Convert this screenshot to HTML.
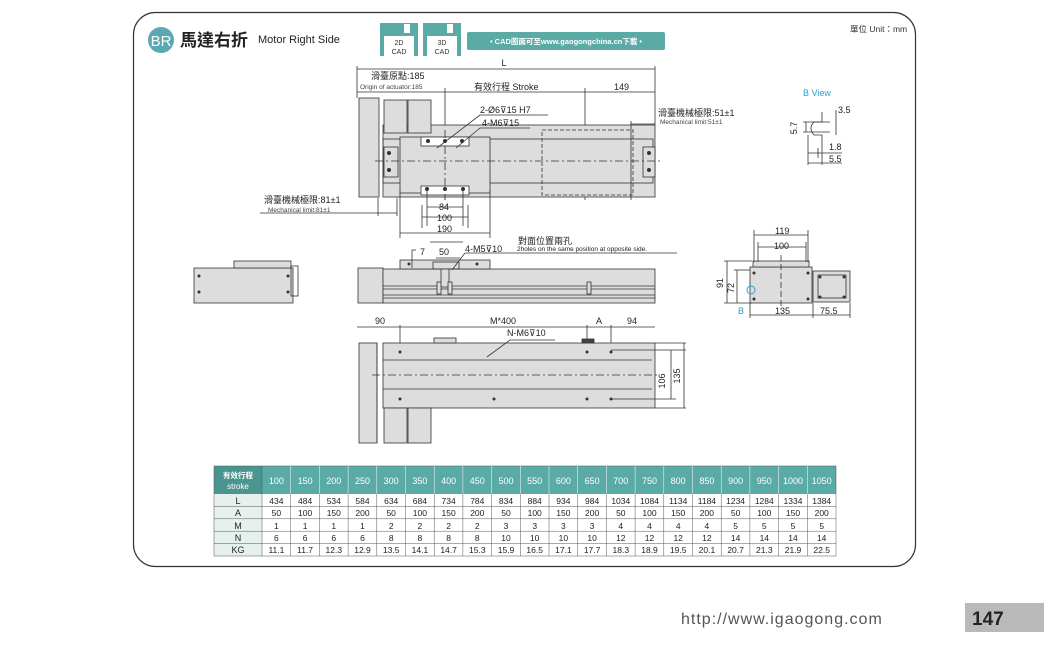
<!DOCTYPE html>
<html><head><meta charset="utf-8"><style>
html,body{margin:0;padding:0;background:#fff;}
svg{display:block;font-family:"Liberation Sans","Noto Sans CJK TC",sans-serif;}
</style></head><body>
<svg width="1044" height="648" viewBox="0 0 1044 648" xmlns="http://www.w3.org/2000/svg">
<rect x="133.5" y="12.5" width="782" height="554" rx="22" fill="#fff" stroke="#333" stroke-width="1.2"/>
<circle cx="161" cy="40" r="13" fill="#5aa9b2"/>
<text x="161" y="46" font-size="15" fill="#fff" text-anchor="middle">BR</text>
<text x="180" y="46" font-size="17" font-weight="bold" fill="#222">馬達右折</text>
<text x="258" y="43" font-size="11" fill="#222">Motor Right Side</text>
<g fill="#5aaaa6">
<rect x="380" y="23" width="38" height="33"/><rect x="423" y="23" width="38" height="33"/>
</g>
<rect x="384" y="36" width="30" height="20" fill="#fff"/><rect x="427" y="36" width="30" height="20" fill="#fff"/>
<rect x="404" y="24" width="6" height="9" fill="#fff"/><rect x="447" y="24" width="6" height="9" fill="#fff"/>
<text x="399" y="45" font-size="7" text-anchor="middle" fill="#333">2D</text><text x="399" y="54" font-size="7" text-anchor="middle" fill="#333">CAD</text>
<text x="442" y="45" font-size="7" text-anchor="middle" fill="#333">3D</text><text x="442" y="54" font-size="7" text-anchor="middle" fill="#333">CAD</text>
<rect x="467" y="32" width="198" height="18" rx="2" fill="#5aaaa6"/>
<text x="566" y="44" font-size="7.5" font-weight="bold" fill="#fff" text-anchor="middle">• CAD圖面可至www.gaogongchina.cn下載 •</text>
<text x="850" y="32" font-size="8.5" fill="#333">單位 Unit：mm</text>

<g stroke="#333" stroke-width="0.8" fill="none">
<line x1="357" y1="69" x2="655" y2="69"/><line x1="357" y1="66" x2="357" y2="98"/><line x1="655" y1="66" x2="655" y2="125"/>
<line x1="357" y1="92" x2="655" y2="92"/>
<line x1="445" y1="88" x2="445" y2="200"/><line x1="585" y1="88" x2="585" y2="200"/>
<rect x="359" y="98" width="20" height="99" fill="#ddd"/>
<rect x="383" y="125" width="272" height="72" fill="#ddd"/>
<rect x="383" y="139" width="270" height="44"/>
<rect x="384" y="100" width="23" height="33" fill="#ddd"/><rect x="408" y="100" width="23" height="33" fill="#ddd"/>
<rect x="400" y="137" width="90" height="56" fill="#ddd"/>
<rect x="421" y="137" width="48" height="9" fill="#fff"/><rect x="421" y="186" width="48" height="9" fill="#fff"/>
<rect x="542" y="130" width="91" height="65" stroke-dasharray="4 2"/>
<rect x="384" y="147" width="14" height="30" fill="#ddd"/><rect x="643" y="147" width="12" height="30" fill="#ddd"/>
<line x1="375" y1="161" x2="662" y2="161" stroke-dasharray="8 3 2 3"/>
<line x1="445" y1="130" x2="445" y2="200" stroke-dasharray="8 3 2 3"/>
<line x1="427" y1="190" x2="427" y2="226"/><line x1="463" y1="190" x2="463" y2="226"/>
<line x1="422" y1="205" x2="422" y2="228"/><line x1="468" y1="205" x2="468" y2="228"/>
<line x1="400" y1="190" x2="400" y2="238"/><line x1="490" y1="190" x2="490" y2="238"/>
<line x1="427" y1="207" x2="463" y2="207"/><line x1="422" y1="217" x2="468" y2="217"/><line x1="400" y1="233" x2="490" y2="233"/>
<line x1="260" y1="213" x2="397" y2="213"/><line x1="378" y1="198" x2="378" y2="216"/><line x1="397" y1="198" x2="397" y2="216"/>
<line x1="631" y1="124" x2="655" y2="124"/><line x1="631" y1="121" x2="631" y2="200"/>
<line x1="437" y1="148" x2="480" y2="115"/><line x1="456" y1="148" x2="480" y2="128"/><line x1="480" y1="115" x2="548" y2="115"/><line x1="480" y1="128" x2="530" y2="128"/>
<rect x="194" y="268" width="99" height="35" fill="#ddd"/><rect x="234" y="261" width="57" height="7" fill="#ddd"/>
<rect x="291" y="266" width="7" height="30"/>
<rect x="358" y="268" width="25" height="35" fill="#ddd"/>
<rect x="383" y="269" width="272" height="34" fill="#ddd"/>
<line x1="383" y1="286" x2="655" y2="286"/><line x1="383" y1="289" x2="655" y2="289"/>
<line x1="383" y1="295" x2="655" y2="295"/><line x1="383" y1="298" x2="655" y2="298"/>
<rect x="400" y="260" width="90" height="9" fill="#ddd"/>
<rect x="433" y="262" width="26" height="7"/>
<rect x="441" y="269" width="8" height="18" fill="#ddd"/>
<rect x="587" y="282" width="4" height="12" fill="#ddd"/><rect x="437" y="282" width="4" height="12" fill="#ddd"/><rect x="448" y="282" width="4" height="12" fill="#ddd"/>
<line x1="412" y1="250" x2="412" y2="268"/><line x1="412" y1="250" x2="416" y2="250"/>
<line x1="436" y1="258" x2="460" y2="258"/>
<line x1="452" y1="270" x2="465" y2="253"/><line x1="465" y1="253" x2="677" y2="253"/>
<line x1="430" y1="242" x2="463" y2="242"/>
<line x1="357" y1="327" x2="655" y2="327"/>
<line x1="400" y1="325" x2="400" y2="352"/><line x1="587" y1="325" x2="587" y2="352"/><line x1="611" y1="325" x2="611" y2="352"/>
<rect x="359" y="343" width="18" height="100" fill="#ddd"/>
<rect x="383" y="343" width="272" height="65" fill="#ddd"/>
<line x1="377" y1="343" x2="377" y2="443"/>
<line x1="383" y1="360" x2="652" y2="360"/><line x1="383" y1="389" x2="652" y2="389"/>
<line x1="372" y1="375" x2="660" y2="375" stroke-dasharray="8 3 2 3"/>
<rect x="384" y="408" width="23" height="35" fill="#ddd"/><rect x="408" y="408" width="23" height="35" fill="#ddd"/>
<rect x="434" y="338" width="22" height="5" fill="#ddd"/><rect x="582" y="339" width="12" height="4" fill="#444"/>
<line x1="611" y1="350" x2="686" y2="350"/><line x1="611" y1="399" x2="676" y2="399"/><line x1="655" y1="343" x2="686" y2="343"/><line x1="655" y1="408" x2="686" y2="408"/>
<line x1="671" y1="350" x2="671" y2="399"/><line x1="684" y1="343" x2="684" y2="408"/>
<line x1="487" y1="357" x2="510" y2="340"/><line x1="510" y1="340" x2="555" y2="340"/>
<rect x="750" y="267" width="62" height="36" fill="#ddd"/><rect x="753" y="261" width="56" height="6" fill="#ddd"/>
<rect x="813" y="271" width="37" height="31" fill="#ddd"/>
<rect x="818" y="275" width="28" height="23"/>
<line x1="754" y1="230" x2="754" y2="262"/><line x1="808" y1="230" x2="808" y2="262"/><line x1="754" y1="235" x2="808" y2="235"/>
<line x1="758" y1="242" x2="758" y2="262"/><line x1="806" y1="242" x2="806" y2="262"/><line x1="758" y1="247" x2="806" y2="247"/>
<line x1="724" y1="261" x2="752" y2="261"/><line x1="724" y1="303" x2="752" y2="303"/><line x1="727" y1="261" x2="727" y2="303"/>
<line x1="734" y1="270" x2="750" y2="270"/><line x1="737" y1="270" x2="737" y2="303"/>
<line x1="750" y1="303" x2="750" y2="318"/><line x1="813" y1="303" x2="813" y2="318"/><line x1="850" y1="303" x2="850" y2="318"/>
<line x1="750" y1="315" x2="850" y2="315"/>
<line x1="781" y1="255" x2="781" y2="310" stroke-dasharray="6 3"/>
<path d="M822 112 L822 122 L814 122 Q808 128 814 135 L822 135 L822 148" />
<line x1="803" y1="122" x2="830" y2="122"/><line x1="803" y1="132" x2="830" y2="132"/>
<line x1="806" y1="122" x2="806" y2="132"/>
<line x1="808" y1="135" x2="808" y2="165"/><line x1="822" y1="148" x2="822" y2="165"/><line x1="818" y1="148" x2="818" y2="158"/>
<line x1="808" y1="153" x2="842" y2="153"/><line x1="808" y1="163" x2="842" y2="163"/>
<line x1="836" y1="110" x2="836" y2="135"/>
</g>
<g fill="#333">
<circle cx="428" cy="141" r="2"/><circle cx="445" cy="141" r="2"/><circle cx="462" cy="141" r="2"/>
<circle cx="427" cy="189" r="2"/><circle cx="445" cy="189" r="2"/><circle cx="463" cy="189" r="2"/>
<circle cx="389" cy="153" r="2"/><circle cx="389" cy="170" r="2"/><circle cx="649" cy="153" r="2"/><circle cx="649" cy="170" r="2"/>
<circle cx="400" cy="352" r="1.5"/><circle cx="587" cy="352" r="1.5"/><circle cx="611" cy="352" r="1.5"/>
<circle cx="400" cy="399" r="1.5"/><circle cx="494" cy="399" r="1.5"/><circle cx="587" cy="399" r="1.5"/><circle cx="611" cy="399" r="1.5"/>
<circle cx="409" cy="264" r="1.5"/><circle cx="477" cy="264" r="1.5"/>
<circle cx="199" cy="276" r="1.5"/><circle cx="199" cy="292" r="1.5"/><circle cx="288" cy="276" r="1.5"/><circle cx="288" cy="292" r="1.5"/>
<circle cx="754" cy="273" r="1.5"/><circle cx="754" cy="299" r="1.5"/><circle cx="808" cy="273" r="1.5"/><circle cx="808" cy="299" r="1.5"/>
<circle cx="820" cy="277" r="1.5"/><circle cx="844" cy="277" r="1.5"/><circle cx="820" cy="297" r="1.5"/><circle cx="844" cy="297" r="1.5"/>
</g>
<circle cx="751" cy="290" r="4" fill="none" stroke="#2a9fd6" stroke-width="1"/>
<g font-size="9" fill="#222">
<text x="504" y="66" text-anchor="middle">L</text>
<text x="371" y="79">滑臺原點:185</text>
<text x="360" y="89" font-size="6.5" fill="#444">Origin of actuator:185</text>
<text x="474" y="90">有效行程  Stroke</text>
<text x="614" y="90">149</text>
<text x="480" y="113">2-Ø6⊽15 H7</text>
<text x="482" y="126">4-M6⊽15</text>
<text x="658" y="116">滑臺機械極限:51±1</text>
<text x="660" y="124" font-size="6.5" fill="#444">Mechanical limit:51±1</text>
<text x="264" y="203">滑臺機械極限:81±1</text>
<text x="268" y="212" font-size="6.5" fill="#444">Mechanical limit:81±1</text>
<text x="439" y="210">84</text><text x="437" y="221">100</text><text x="437" y="232">190</text>
<text x="518" y="244">對面位置兩孔</text>
<text x="517" y="251" font-size="6.5">2holes on the same position at opposite side.</text>
<text x="420" y="255">7</text><text x="439" y="255">50</text><text x="465" y="252">4-M5⊽10</text>
<text x="375" y="324">90</text><text x="490" y="324">M*400</text><text x="596" y="324">A</text><text x="627" y="324">94</text>
<text x="507" y="336">N-M6⊽10</text>
<text x="775" y="234">119</text><text x="774" y="249">100</text>
<text x="775" y="314">135</text><text x="820" y="314">75.5</text>
<text x="838" y="113">3.5</text><text x="829" y="150">1.8</text><text x="829" y="162">5.5</text>
<text x="665" y="381" transform="rotate(-90 665 381)" text-anchor="middle">106</text>
<text x="680" y="376" transform="rotate(-90 680 376)" text-anchor="middle">135</text>
<text x="723" y="283" transform="rotate(-90 723 283)" text-anchor="middle">91</text>
<text x="734" y="288" transform="rotate(-90 734 288)" text-anchor="middle">72</text>
<text x="797" y="128" transform="rotate(-90 797 128)" text-anchor="middle">5.7</text>
</g>
<text x="803" y="96" font-size="9" fill="#2a9fd6">B  View</text>
<text x="738" y="314" font-size="9" fill="#2a9fd6">B</text>

<g font-size="9" fill="#222" text-anchor="middle">
<rect x="214" y="466" width="622" height="28" fill="#5aaaa6"/>
<rect x="214" y="466" width="48" height="28" fill="#4a958f"/>
<rect x="214" y="494" width="48" height="62" fill="#e6f1ec"/>
<g stroke="#555" stroke-width="0.5" fill="none">
<rect x="214" y="466" width="622" height="90"/>
<line x1="214" y1="506.4" x2="836" y2="506.4"/><line x1="214" y1="518.8" x2="836" y2="518.8"/><line x1="214" y1="531.2" x2="836" y2="531.2"/><line x1="214" y1="543.6" x2="836" y2="543.6"/>
<line x1="262" y1="466" x2="262" y2="556"/>
</g>
<g stroke="#fff" stroke-width="0.5">
<line x1="290.7" y1="466" x2="290.7" y2="494"/><line x1="319.4" y1="466" x2="319.4" y2="494"/><line x1="348.1" y1="466" x2="348.1" y2="494"/><line x1="376.8" y1="466" x2="376.8" y2="494"/><line x1="405.5" y1="466" x2="405.5" y2="494"/><line x1="434.2" y1="466" x2="434.2" y2="494"/><line x1="462.9" y1="466" x2="462.9" y2="494"/><line x1="491.6" y1="466" x2="491.6" y2="494"/><line x1="520.3" y1="466" x2="520.3" y2="494"/><line x1="549" y1="466" x2="549" y2="494"/><line x1="577.7" y1="466" x2="577.7" y2="494"/><line x1="606.4" y1="466" x2="606.4" y2="494"/><line x1="635.1" y1="466" x2="635.1" y2="494"/><line x1="663.8" y1="466" x2="663.8" y2="494"/><line x1="692.5" y1="466" x2="692.5" y2="494"/><line x1="721.2" y1="466" x2="721.2" y2="494"/><line x1="749.9" y1="466" x2="749.9" y2="494"/><line x1="778.6" y1="466" x2="778.6" y2="494"/><line x1="807.3" y1="466" x2="807.3" y2="494"/>
</g>
<g stroke="#555" stroke-width="0.5">
<line x1="290.7" y1="494" x2="290.7" y2="556"/><line x1="319.4" y1="494" x2="319.4" y2="556"/><line x1="348.1" y1="494" x2="348.1" y2="556"/><line x1="376.8" y1="494" x2="376.8" y2="556"/><line x1="405.5" y1="494" x2="405.5" y2="556"/><line x1="434.2" y1="494" x2="434.2" y2="556"/><line x1="462.9" y1="494" x2="462.9" y2="556"/><line x1="491.6" y1="494" x2="491.6" y2="556"/><line x1="520.3" y1="494" x2="520.3" y2="556"/><line x1="549" y1="494" x2="549" y2="556"/><line x1="577.7" y1="494" x2="577.7" y2="556"/><line x1="606.4" y1="494" x2="606.4" y2="556"/><line x1="635.1" y1="494" x2="635.1" y2="556"/><line x1="663.8" y1="494" x2="663.8" y2="556"/><line x1="692.5" y1="494" x2="692.5" y2="556"/><line x1="721.2" y1="494" x2="721.2" y2="556"/><line x1="749.9" y1="494" x2="749.9" y2="556"/><line x1="778.6" y1="494" x2="778.6" y2="556"/><line x1="807.3" y1="494" x2="807.3" y2="556"/>
</g>
<text x="238" y="478" fill="#fff" font-size="7.5" font-weight="bold">有效行程</text>
<text x="238" y="489" fill="#fff" font-size="8">stroke</text>
<g fill="#fff" font-size="9">
<text x="276.4" y="484">100</text><text x="305.1" y="484">150</text><text x="333.8" y="484">200</text><text x="362.5" y="484">250</text><text x="391.2" y="484">300</text><text x="419.9" y="484">350</text><text x="448.6" y="484">400</text><text x="477.3" y="484">450</text><text x="506" y="484">500</text><text x="534.7" y="484">550</text><text x="563.4" y="484">600</text><text x="592.1" y="484">650</text><text x="620.8" y="484">700</text><text x="649.5" y="484">750</text><text x="678.2" y="484">800</text><text x="706.9" y="484">850</text><text x="735.6" y="484">900</text><text x="764.3" y="484">950</text><text x="793" y="484">1000</text><text x="821.7" y="484">1050</text>
</g>
<text x="238" y="504">L</text><text x="238" y="516">A</text><text x="238" y="529">M</text><text x="238" y="541">N</text><text x="238" y="553">KG</text>
<g font-size="8.5">
<text x="276.4" y="504">434</text><text x="305.1" y="504">484</text><text x="333.8" y="504">534</text><text x="362.5" y="504">584</text><text x="391.2" y="504">634</text><text x="419.9" y="504">684</text><text x="448.6" y="504">734</text><text x="477.3" y="504">784</text><text x="506" y="504">834</text><text x="534.7" y="504">884</text><text x="563.4" y="504">934</text><text x="592.1" y="504">984</text><text x="620.8" y="504">1034</text><text x="649.5" y="504">1084</text><text x="678.2" y="504">1134</text><text x="706.9" y="504">1184</text><text x="735.6" y="504">1234</text><text x="764.3" y="504">1284</text><text x="793" y="504">1334</text><text x="821.7" y="504">1384</text>
<text x="276.4" y="516">50</text><text x="305.1" y="516">100</text><text x="333.8" y="516">150</text><text x="362.5" y="516">200</text><text x="391.2" y="516">50</text><text x="419.9" y="516">100</text><text x="448.6" y="516">150</text><text x="477.3" y="516">200</text><text x="506" y="516">50</text><text x="534.7" y="516">100</text><text x="563.4" y="516">150</text><text x="592.1" y="516">200</text><text x="620.8" y="516">50</text><text x="649.5" y="516">100</text><text x="678.2" y="516">150</text><text x="706.9" y="516">200</text><text x="735.6" y="516">50</text><text x="764.3" y="516">100</text><text x="793" y="516">150</text><text x="821.7" y="516">200</text>
<text x="276.4" y="529">1</text><text x="305.1" y="529">1</text><text x="333.8" y="529">1</text><text x="362.5" y="529">1</text><text x="391.2" y="529">2</text><text x="419.9" y="529">2</text><text x="448.6" y="529">2</text><text x="477.3" y="529">2</text><text x="506" y="529">3</text><text x="534.7" y="529">3</text><text x="563.4" y="529">3</text><text x="592.1" y="529">3</text><text x="620.8" y="529">4</text><text x="649.5" y="529">4</text><text x="678.2" y="529">4</text><text x="706.9" y="529">4</text><text x="735.6" y="529">5</text><text x="764.3" y="529">5</text><text x="793" y="529">5</text><text x="821.7" y="529">5</text>
<text x="276.4" y="541">6</text><text x="305.1" y="541">6</text><text x="333.8" y="541">6</text><text x="362.5" y="541">6</text><text x="391.2" y="541">8</text><text x="419.9" y="541">8</text><text x="448.6" y="541">8</text><text x="477.3" y="541">8</text><text x="506" y="541">10</text><text x="534.7" y="541">10</text><text x="563.4" y="541">10</text><text x="592.1" y="541">10</text><text x="620.8" y="541">12</text><text x="649.5" y="541">12</text><text x="678.2" y="541">12</text><text x="706.9" y="541">12</text><text x="735.6" y="541">14</text><text x="764.3" y="541">14</text><text x="793" y="541">14</text><text x="821.7" y="541">14</text>
<text x="276.4" y="553">11.1</text><text x="305.1" y="553">11.7</text><text x="333.8" y="553">12.3</text><text x="362.5" y="553">12.9</text><text x="391.2" y="553">13.5</text><text x="419.9" y="553">14.1</text><text x="448.6" y="553">14.7</text><text x="477.3" y="553">15.3</text><text x="506" y="553">15.9</text><text x="534.7" y="553">16.5</text><text x="563.4" y="553">17.1</text><text x="592.1" y="553">17.7</text><text x="620.8" y="553">18.3</text><text x="649.5" y="553">18.9</text><text x="678.2" y="553">19.5</text><text x="706.9" y="553">20.1</text><text x="735.6" y="553">20.7</text><text x="764.3" y="553">21.3</text><text x="793" y="553">21.9</text><text x="821.7" y="553">22.5</text>
</g>
</g>
<text x="681" y="624" font-size="16" fill="#555" letter-spacing="1">http://www.igaogong.com</text>
<rect x="965" y="603" width="79" height="29" fill="#b9b9b9"/>
<text x="972" y="625" font-size="19" font-weight="bold" fill="#222">147</text>
</svg>
</body></html>
